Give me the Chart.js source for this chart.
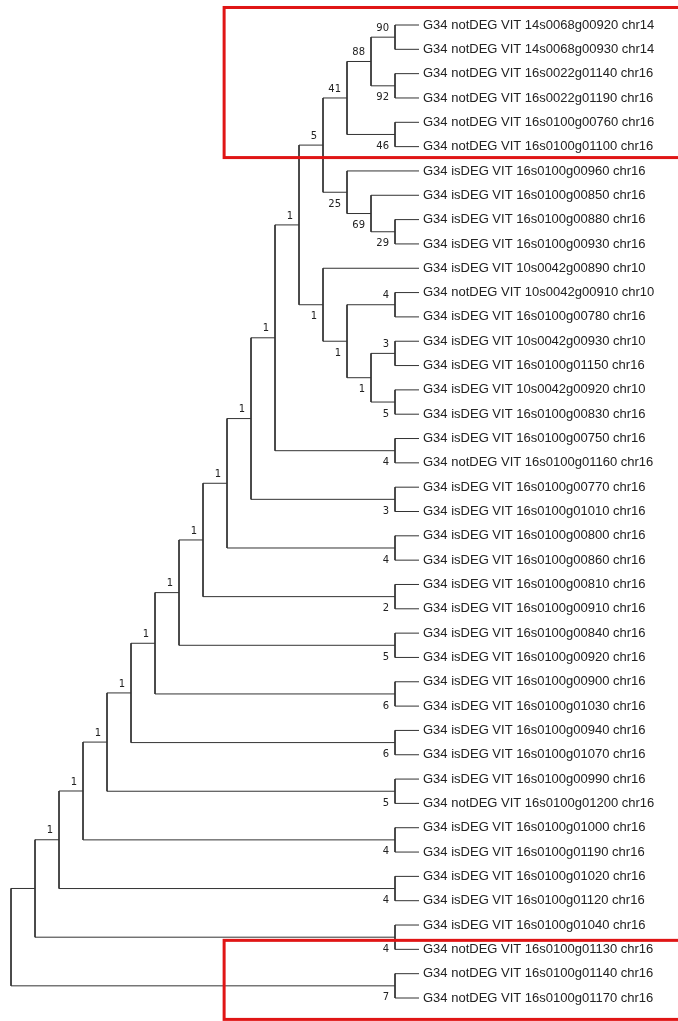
<!DOCTYPE html>
<html>
<head>
<meta charset="utf-8">
<script src="https://cdn.jsdelivr.net/npm/chart.js@4.4.1/dist/chart.umd.min.js"></script>
<style>
html, body { margin: 0; padding: 0; background: #fff; }
#wrap { width: 678px; height: 1021px; position: relative; }
</style>
</head>
<body>
<div id="wrap"><canvas id="tree"></canvas></div>
<script>
// leaf labels, top to bottom
const leafNames = [
    'G34 notDEG VIT 14s0068g00920 chr14',
    'G34 notDEG VIT 14s0068g00930 chr14',
    'G34 notDEG VIT 16s0022g01140 chr16',
    'G34 notDEG VIT 16s0022g01190 chr16',
    'G34 notDEG VIT 16s0100g00760 chr16',
    'G34 notDEG VIT 16s0100g01100 chr16',
    'G34 isDEG VIT 16s0100g00960 chr16',
    'G34 isDEG VIT 16s0100g00850 chr16',
    'G34 isDEG VIT 16s0100g00880 chr16',
    'G34 isDEG VIT 16s0100g00930 chr16',
    'G34 isDEG VIT 10s0042g00890 chr10',
    'G34 notDEG VIT 10s0042g00910 chr10',
    'G34 isDEG VIT 16s0100g00780 chr16',
    'G34 isDEG VIT 10s0042g00930 chr10',
    'G34 isDEG VIT 16s0100g01150 chr16',
    'G34 isDEG VIT 10s0042g00920 chr10',
    'G34 isDEG VIT 16s0100g00830 chr16',
    'G34 isDEG VIT 16s0100g00750 chr16',
    'G34 notDEG VIT 16s0100g01160 chr16',
    'G34 isDEG VIT 16s0100g00770 chr16',
    'G34 isDEG VIT 16s0100g01010 chr16',
    'G34 isDEG VIT 16s0100g00800 chr16',
    'G34 isDEG VIT 16s0100g00860 chr16',
    'G34 isDEG VIT 16s0100g00810 chr16',
    'G34 isDEG VIT 16s0100g00910 chr16',
    'G34 isDEG VIT 16s0100g00840 chr16',
    'G34 isDEG VIT 16s0100g00920 chr16',
    'G34 isDEG VIT 16s0100g00900 chr16',
    'G34 isDEG VIT 16s0100g01030 chr16',
    'G34 isDEG VIT 16s0100g00940 chr16',
    'G34 isDEG VIT 16s0100g01070 chr16',
    'G34 isDEG VIT 16s0100g00990 chr16',
    'G34 notDEG VIT 16s0100g01200 chr16',
    'G34 isDEG VIT 16s0100g01000 chr16',
    'G34 isDEG VIT 16s0100g01190 chr16',
    'G34 isDEG VIT 16s0100g01020 chr16',
    'G34 isDEG VIT 16s0100g01120 chr16',
    'G34 isDEG VIT 16s0100g01040 chr16',
    'G34 notDEG VIT 16s0100g01130 chr16',
    'G34 notDEG VIT 16s0100g01140 chr16',
    'G34 notDEG VIT 16s0100g01170 chr16'
];

// topology with bootstrap values, leaves are indexes into leafNames
const coreClade = '(((((0,1)90,(2,3)92)88,(4,5)46)41,(6,(7,(8,9)29)69)25)5,(10,((11,12)4,((13,14)3,(15,16)5)1)1)1)1';
const backboneClades = ',(17,18)4)1,(19,20)3)1,(21,22)4)1,(23,24)2)1,(25,26)5)1,(27,28)6)1,(29,30)6)1,(31,32)5)1,(33,34)4)1,(35,36)4)1,(37,38)4),(39,40)7);';
const treeNewick = '(((((((((((('  + coreClade + backboneClades;

// red highlight boxes, in leaf rows
const highlightBoxes = [
    { from: -0.72, to: 5.45 },
    { from: 37.63, to: 40.88 }
];

function parseNewick (str) {
    let pos = 0;
    function readNode () {
        const n = { children: [] };
        if (str[pos] === '(') {
            pos++;
            n.children.push(readNode());
            while (str[pos] === ',') {
                pos++;
                n.children.push(readNode());
            }
            pos++; // ')'
        }
        let tok = '';
        while (pos < str.length && !',();'.includes(str[pos])) tok += str[pos++];
        if (n.children.length) n.support = tok;
        else n.leaf = Number(tok);
        return n;
    }
    return readNode();
}

function layout (n) {
    if (!n.children.length) {
        n.y = n.leaf;
        n.h = 0;
        return;
    }
    n.children.forEach(layout);
    n.y = n.children.reduce((s, c) => s + c.y, 0) / n.children.length;
    n.h = Math.max(...n.children.map(c => c.h)) + 1;
}

const root = parseNewick(treeNewick);
layout(root);

const datasets = [];
const supportLabels = [];
(function walk (n) {
    if (!n.children.length) return;
    const first = n.children[0];
    const last = n.children[n.children.length - 1];
    datasets.push({
        data: [
            { x: first.h, y: first.y },
            { x: n.h, y: first.y },
            { x: n.h, y: last.y },
            { x: last.h, y: last.y }
        ],
        showLine: true,
        borderColor: '#333',
        borderWidth: 1,
        pointRadius: 0,
        tension: 0,
        clip: false
    });
    n.children.forEach((c, i) => {
        if (c.support) supportLabels.push({ h: c.h, y: c.y, text: c.support, below: i > 0 });
        walk(c);
    });
})(root);

const treeText = {
    id: 'treeText',
    afterDatasetsDraw (chart) {
        const { ctx, scales: { x, y } } = chart;
        ctx.save();
        ctx.fillStyle = '#222';
        ctx.textBaseline = 'middle';
        ctx.font = '13px "Liberation Sans", Arial, sans-serif';
        leafNames.forEach((name, i) => {
            ctx.fillText(name, x.getPixelForValue(0) + 4, y.getPixelForValue(i));
        });
        ctx.font = '10px "DejaVu Sans", sans-serif';
        ctx.textAlign = 'right';
        supportLabels.forEach(l => {
            ctx.fillText(l.text, x.getPixelForValue(l.h) - 6, y.getPixelForValue(l.y) + (l.below ? 12 : -9));
        });
        ctx.strokeStyle = '#e01515';
        ctx.lineWidth = 3;
        highlightBoxes.forEach(b => {
            const left = x.getPixelForValue(8.12);
            const top = y.getPixelForValue(b.from);
            const bottom = y.getPixelForValue(b.to);
            ctx.strokeRect(left, top, chart.width + 10 - left, bottom - top);
        });
        ctx.restore();
    }
};

new Chart(document.getElementById('tree'), {
    type: 'scatter',
    data: { datasets },
    options: {
        responsive: true,
        maintainAspectRatio: false,
        animation: false,
        events: [],
        layout: { padding: { left: 11, right: 259, top: 25, bottom: 23 } },
        scales: {
            x: { type: 'linear', reverse: true, min: 0, max: root.h, display: false },
            y: { type: 'linear', reverse: true, min: 0, max: leafNames.length - 1, display: false }
        },
        plugins: {
            legend: { display: false },
            tooltip: { enabled: false }
        }
    },
    plugins: [treeText]
});
</script>
</body>
</html>
